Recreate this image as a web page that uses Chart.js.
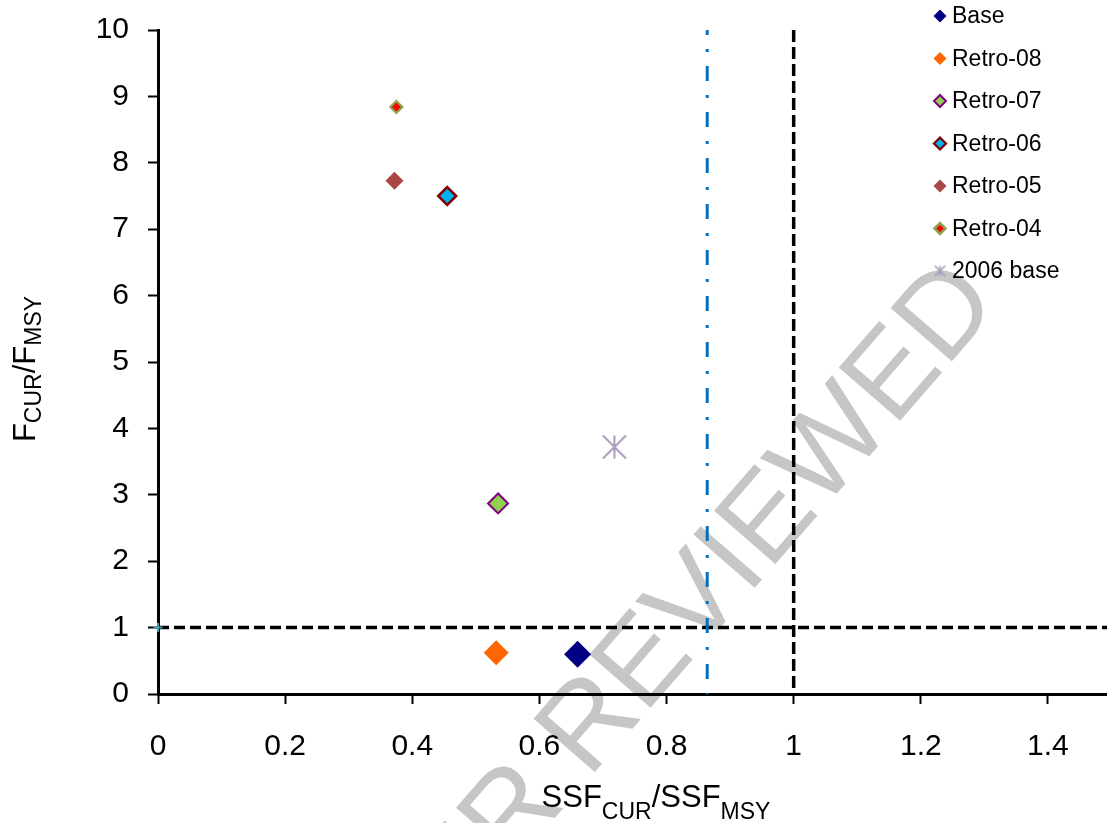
<!DOCTYPE html>
<html><head><meta charset="utf-8">
<script src="https://cdn.jsdelivr.net/npm/chart.js@4.4.1/dist/chart.umd.min.js"></script>
<style>
html,body{margin:0;padding:0;background:#fff;overflow:hidden;width:1107px;height:823px}
#wrap{width:1125px;height:823px;position:relative}
canvas{display:block}
</style>
</head><body><div id="wrap"><canvas id="c" width="1125" height="823"></canvas></div>
<script>
// ---- data ----
const seriesNames = ['Base', 'Retro-08', 'Retro-07', 'Retro-06', 'Retro-05', 'Retro-04', '2006 base'];
const ssfRatio = [0.660, 0.532, 0.535, 0.455, 0.372, 0.375, 0.718];
const fRatio   = [0.60, 0.62, 2.87, 7.50, 7.73, 8.84, 3.72];
const xTickValues = [0, 0.2, 0.4, 0.6, 0.8, 1, 1.2, 1.4];
const yTickValues = [0, 1, 2, 3, 4, 5, 6, 7, 8, 9, 10];
const fLimit = 1;          // horizontal dashed reference
const ssfLimit = 1;        // vertical dashed reference
const ssfLimitAlt = 0.864; // blue dash-dot reference
const xMin = 0, xMax = 1.5, yMin = 0, yMax = 10;
const xTitle = [['SSF', 0], ['CUR', 1], ['/SSF', 0], ['MSY', 1]];
const yTitle = [['F', 0], ['CUR', 1], ['/F', 0], ['MSY', 1]];
const watermark = 'NOT PEER REVIEWED';

// ---- styles ----
const FONT = '"Liberation Sans", Arial, sans-serif';
function asterisk(size, color, lw) {
  const c = document.createElement('canvas');
  c.width = size; c.height = size;
  const g = c.getContext('2d');
  g.strokeStyle = color; g.lineWidth = lw; g.lineCap = 'butt';
  const p = lw / 2 + 0.5, q = size - p;
  g.beginPath();
  g.moveTo(size / 2, p); g.lineTo(size / 2, q);
  g.moveTo(p, p); g.lineTo(q, q);
  g.moveTo(q, p); g.lineTo(p, q);
  g.stroke();
  return c;
}
const starBig = asterisk(26, '#a99bbd', 2);
const starSmall = asterisk(13, '#a99bbd', 1.6);

const styles = [
  { fill: '#000080', border: '#000080', bw: 0, r: 13.5, lr: 6.5, lbw: 0 },
  { fill: '#ff6600', border: '#ff6600', bw: 0, r: 12.5, lr: 6.5, lbw: 0 },
  { fill: '#92d050', border: '#800080', bw: 2, r: 10, lr: 6, lbw: 2 },
  { fill: '#00b0f0', border: '#800000', bw: 2.5, r: 9, lr: 6, lbw: 2.2 },
  { fill: '#aa4643', border: '#aa4643', bw: 0, r: 9, lr: 6.5, lbw: 0 },
  { fill: '#ff0000', border: '#89a54e', bw: 2.2, r: 6, lr: 5.5, lbw: 2.5 },
  { fill: '#a99bbd', border: '#a99bbd', bw: 0, r: 13, lr: 6.5, lbw: 0, img: starBig, limg: starSmall }
];

const datasets = seriesNames.map((name, i) => {
  const s = styles[i];
  return {
    label: name,
    data: [{ x: ssfRatio[i], y: fRatio[i] }],
    pointStyle: s.img || 'rectRot',
    pointRadius: s.r,
    backgroundColor: s.fill,
    borderColor: s.border,
    pointBorderWidth: s.bw,
    clip: false
  };
});
// reference marker at origin of y=1 line
datasets.push({
  label: '', data: [{ x: xMin, y: fLimit }], pointStyle: 'cross', pointRadius: 4.5,
  borderColor: '#4198af', backgroundColor: '#4198af', pointBorderWidth: 2, clip: false
});
// reference lines
datasets.push({
  label: '', data: [{ x: ssfLimitAlt, y: yMax }, { x: ssfLimitAlt, y: yMin }], showLine: true, pointRadius: 0,
  borderColor: '#0070c0', borderWidth: 3, borderDash: [15, 14, 3, 14], borderDashOffset: 10, borderCapStyle: 'butt'
});
datasets.push({
  label: '', data: [{ x: ssfLimit, y: yMax }, { x: ssfLimit, y: yMin }], showLine: true, pointRadius: 0,
  borderColor: '#000', borderWidth: 3.5, borderDash: [12, 5], borderCapStyle: 'butt'
});
datasets.push({
  label: '', data: [{ x: xMin, y: fLimit }, { x: xMax, y: fLimit }], showLine: true, pointRadius: 0,
  borderColor: '#000', borderWidth: 3.5, borderDash: [11, 5], borderCapStyle: 'butt'
});

function drawTitle(ctx, parts, mainSize, subSize, subDrop) {
  let total = 0;
  const widths = parts.map(([t, sub]) => {
    ctx.font = (sub ? subSize : mainSize) + 'px ' + FONT;
    const w = ctx.measureText(t).width; total += w; return w;
  });
  let x = -total / 2;
  parts.forEach(([t, sub], i) => {
    ctx.font = (sub ? subSize : mainSize) + 'px ' + FONT;
    ctx.fillText(t, x, sub ? subDrop : 0);
    x += widths[i];
  });
}

const deco = {
  id: 'deco',
  beforeDraw(chart) {
    const ctx = chart.ctx;
    ctx.save();
    ctx.fillStyle = '#fff';
    ctx.fillRect(0, 0, chart.width, chart.height);
    // watermark
    ctx.translate(763, 514);
    ctx.rotate(-49 * Math.PI / 180);
    const size = 118;
    ctx.font = size + 'px ' + FONT;
    ctx.fillStyle = '#c6c6c6';
    ctx.textBaseline = 'alphabetic';
    const pre = ctx.measureText(watermark.slice(0, watermark.lastIndexOf(' ') + 1)).width;
    const last = ctx.measureText(watermark.slice(watermark.lastIndexOf(' ') + 1)).width;
    ctx.fillText(watermark, -pre - last / 2, 0.716 * size / 2);
    ctx.restore();
  },
  afterDraw(chart) {
    const ctx = chart.ctx;
    // legend
    ctx.save();
    const lx = 940, tx = 952, y0 = 16, step = 42.5;
    chart.data.datasets.slice(0, seriesNames.length).forEach((ds, i) => {
      const s = styles[i];
      const y = y0 + i * step;
      ctx.fillStyle = s.fill; ctx.strokeStyle = s.border; ctx.lineWidth = s.lbw;
      Chart.helpers.drawPoint(ctx, { pointStyle: s.limg || 'rectRot', rotation: 0, radius: s.lr, borderWidth: s.lbw }, lx, y);
      ctx.fillStyle = '#000';
      ctx.font = '23px ' + FONT;
      ctx.textBaseline = 'middle';
      ctx.textAlign = 'left';
      ctx.fillText(ds.label, tx, y + 1);
    });
    ctx.restore();
    // axis titles
    ctx.save();
    ctx.fillStyle = '#000';
    ctx.textBaseline = 'alphabetic';
    ctx.textAlign = 'left';
    ctx.translate(656, 807);
    drawTitle(ctx, xTitle, 31, 23, 12);
    ctx.restore();
    ctx.save();
    ctx.fillStyle = '#000';
    ctx.textBaseline = 'alphabetic';
    ctx.textAlign = 'left';
    ctx.translate(35, 369);
    ctx.rotate(-Math.PI / 2);
    drawTitle(ctx, yTitle, 31, 23, 6);
    ctx.restore();
  }
};

function zeroPad(s) { s.paddingLeft = 0; s.paddingRight = 0; s.paddingTop = 0; s.paddingBottom = 0; }

new Chart(document.getElementById('c'), {
  type: 'scatter',
  data: { datasets },
  plugins: [deco],
  options: {
    responsive: false,
    devicePixelRatio: 1,
    animation: false,
    events: [],
    layout: { padding: { top: 30, right: 0, left: 0, bottom: 0 } },
    plugins: { legend: { display: false }, tooltip: { enabled: false } },
    scales: {
      x: {
        type: 'linear', min: xMin, max: xMax,
        afterBuildTicks: s => { s.ticks = xTickValues.map(v => ({ value: v })); },
        afterFit: s => { s.height = 129; zeroPad(s); },
        grid: { display: true, drawOnChartArea: false, drawTicks: true, tickLength: 10, tickWidth: 2, tickColor: '#000' },
        border: { display: true, color: '#000', width: 3 },
        ticks: { color: '#000', font: { family: FONT, size: 30 }, padding: 25, maxRotation: 0, autoSkip: false,
          callback: v => String(v) }
      },
      y: {
        type: 'linear', min: yMin, max: yMax,
        afterBuildTicks: s => { s.ticks = yTickValues.map(v => ({ value: v })); },
        afterFit: s => { s.width = 158; zeroPad(s); },
        grid: { display: true, drawOnChartArea: false, drawTicks: true, tickLength: 10, tickWidth: 2, tickColor: '#000' },
        border: { display: true, color: '#000', width: 3 },
        ticks: { color: '#000', font: { family: FONT, size: 30 }, padding: 19, autoSkip: false,
          callback: v => String(v) }
      }
    }
  }
});
</script>
</body></html>
